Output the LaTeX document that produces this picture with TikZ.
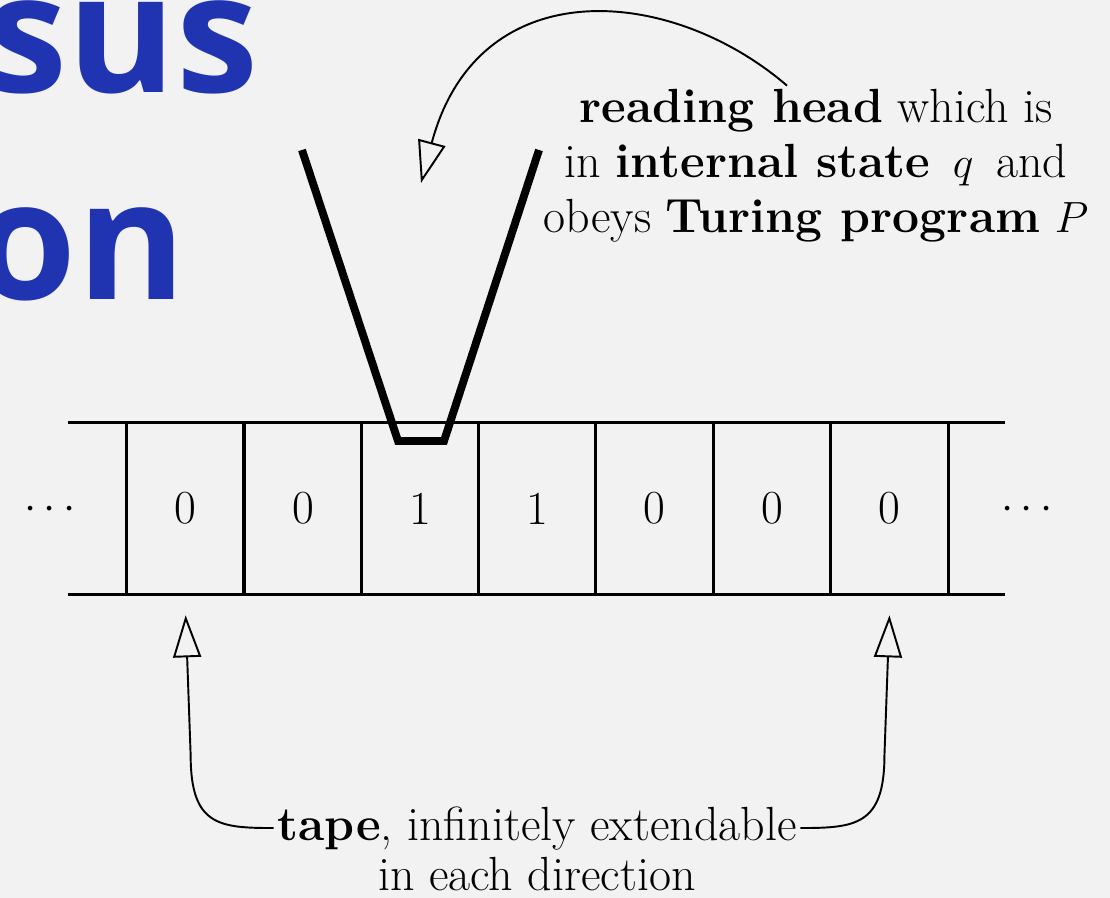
\documentclass[tikz,border=0pt]{standalone}
\usepackage{fontspec}
\newfontfamily\titlefont{Open Sans}
\usetikzlibrary{arrows.meta,calc}
\definecolor{bg}{RGB}{242,242,242}
\definecolor{titleblue}{RGB}{32,52,178}
\begin{document}
\begin{tikzpicture}[x=0.02cm,y=-0.02cm,
  txt/.style={font=\fontsize{27.3}{31.3}\selectfont, inner sep=2pt},
  tapeline/.style={line width=1.8pt},
  cell/.style={minimum width=2.346cm, minimum height=3.42cm, inner sep=0pt, font=\fontsize{27}{31.3}\selectfont},
  headline/.style={line width=4.5pt, line join=miter},
  pointer/.style={line width=1.1pt, -{Triangle[open,length=0.84cm,width=0.56cm]}},
  titletext/.style={font=\titlefont\bfseries\fontsize{94}{100}\selectfont, text=titleblue, inner sep=0pt}]
\useasboundingbox (0,0) rectangle (1110,898);
\fill[bg] (0,0) rectangle (1110,898);
\clip (0,0) rectangle (1110,898);
% title fragments
\node[titletext, anchor=base east] (t1) at (259,93) {rsus};
\node[titletext, anchor=base east] (t2) at (186,300) {on};
% tape cells
\foreach \i/\d in {1/0,2/0,3/1,4/1,5/0,6/0,7/0} {
  \node[cell] (c\i) at ({127+117.3*(\i-0.5)},508.5) {\d};
}
\draw[tapeline] ($(c1.north west)+(-59,0)$) -- ($(c7.north east)+(57,0)$);
\draw[tapeline] ($(c1.south west)+(-59,0)$) -- ($(c7.south east)+(57,0)$);
\foreach \i in {1,...,7} {
  \draw[tapeline] (c\i.north west) -- (c\i.south west);
}
\draw[tapeline] (c7.north east) -- (c7.south east);
\node[txt] (ld) at (50,510) {$\cdots$};
\node[txt] (rd) at (1027,510) {$\cdots$};
% reading head
\draw[headline] (302,150) -- (398,441) -- (444,441) -- (539,150);
\node[txt, align=center] (head) at (816,166) {\textbf{reading head} which is\\ in \textbf{internal state} \,$q$\, and\\ obeys \textbf{Turing program} $P$};
\coordinate (htip) at (421,183);
\draw[pointer] ($(head.north)+(-29,0)$) .. controls (670,-15) and (478,-30) .. (htip);
% tape label
\node[txt, anchor=base] (tapeA) at (537,840) {\textbf{tape}, infinitely extendable};
\node[txt, anchor=base] (tapeB) at (537,890) {in each direction};
\coordinate (la) at ($(c1.south)+(0,21)$);
\coordinate (ra) at ($(c7.south)+(0,21)$);
\draw[pointer] (tapeA.west) .. controls +(-55,0) and +(0,70) .. ($(la)+(5,140)$) -- (la);
\draw[pointer] (tapeA.east) .. controls +(55,0) and +(0,70) .. ($(ra)+(-5,140)$) -- (ra);
\end{tikzpicture}
\end{document}
